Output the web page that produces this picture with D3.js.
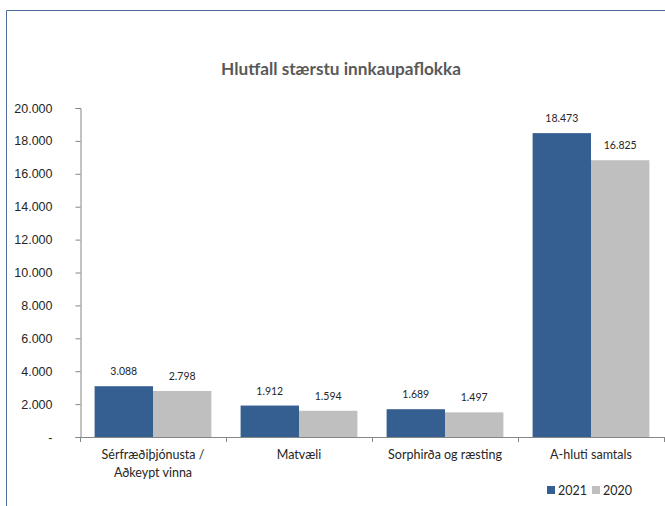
<!DOCTYPE html>
<html>
<head>
<meta charset="utf-8">
<script src="https://cdn.jsdelivr.net/npm/d3@7"></script>
<style>
  html, body { margin: 0; padding: 0; background: #fff; }
  svg { display: block; font-family: Lato, "Open Sans", sans-serif; }
</style>
</head>
<body>
<svg id="chart" width="665" height="506"></svg>
<script>
// Largest purchase categories, 2021 vs 2020
const categories = [["Sérfræðiþjónusta /", "Aðkeypt vinna"], ["Matvæli"], ["Sorphirða og ræsting"], ["A-hluti samtals"]];
const seriesNames = ["2021", "2020"];
const values2021 = [3088, 1912, 1689, 18473];
const values2020 = [2798, 1594, 1497, 16825];
const yTicks = [0, 2000, 4000, 6000, 8000, 10000, 12000, 14000, 16000, 18000, 20000];
const colors = ["#365F91", "#BFBFBF"];

const svg = d3.select("#chart");
const fmt = v => v === 0 ? "-" : d3.format(",")(v).replace(/,/g, ".");

// chart frame (top and left edges)
svg.append("path")
  .attr("d", "M6.5,506 V10.5 H665")
  .attr("fill", "none").attr("stroke", "#4F6E9B").attr("stroke-width", 1);

svg.append("text")
  .attr("x", 341).attr("y", 75)
  .attr("text-anchor", "middle")
  .attr("font-size", 17.2).attr("font-weight", "bold").attr("fill", "#595959")
  .text("Hlutfall stærstu innkaupaflokka");

const plotLeft = 80, plotRight = 664, plotTop = 108, plotBottom = 437;

const x = d3.scaleBand().domain(d3.range(categories.length))
  .range([plotLeft, plotRight]).paddingInner(0.2).paddingOuter(0.1);
const x1 = d3.scaleBand().domain(seriesNames).range([0, x.bandwidth()]);
const y = d3.scaleLinear().domain([0, 20000]).range([plotBottom, plotTop]);

// y axis
const yAxis = svg.append("g").attr("transform", `translate(${plotLeft + 0.5},0)`)
  .call(d3.axisLeft(y).tickValues(yTicks).tickFormat(fmt).tickSize(5).tickSizeOuter(5));
yAxis.select(".domain").attr("stroke", "#868686");
yAxis.selectAll(".tick line").attr("stroke", "#868686");
yAxis.selectAll(".tick text").attr("x", -28).attr("font-size", 12.5).attr("fill", "#262626");

// bars
const data = categories.map((c, i) => ({ i, vals: [values2021[i], values2020[i]] }));
const groups = svg.append("g").selectAll("g").data(data).join("g")
  .attr("transform", d => `translate(${x(d.i)},0)`);
groups.selectAll("rect").data(d => d.vals.map((v, k) => ({ v, k })))
  .join("rect")
  .attr("x", d => x1(seriesNames[d.k]))
  .attr("width", x1.bandwidth())
  .attr("y", d => y(d.v))
  .attr("height", d => y(0) - y(d.v))
  .attr("fill", d => colors[d.k]);
groups.selectAll("text.val").data(d => d.vals.map((v, k) => ({ v, k })))
  .join("text").attr("class", "val")
  .attr("x", d => x1(seriesNames[d.k]) + x1.bandwidth() / 2)
  .attr("y", d => y(d.v) - 11)
  .attr("text-anchor", "middle")
  .attr("font-size", 10.5).attr("fill", "#262626")
  .text(d => fmt(d.v));

// x axis with category boundary ticks
const xAxisG = svg.append("g");
xAxisG.append("line")
  .attr("x1", plotLeft).attr("x2", plotRight + 1).attr("y1", plotBottom + 0.5).attr("y2", plotBottom + 0.5)
  .attr("stroke", "#868686");
const step = x.step();
const bounds = d3.range(categories.length + 1).map(k => plotLeft + k * step);
xAxisG.selectAll("line.tk").data(bounds).join("line").attr("class", "tk")
  .attr("x1", d => Math.round(d) + 0.5).attr("x2", d => Math.round(d) + 0.5)
  .attr("y1", plotBottom).attr("y2", plotBottom + 5)
  .attr("stroke", "#868686");

// category labels
svg.append("g").selectAll("text").data(categories).join("text")
  .attr("text-anchor", "middle")
  .attr("font-size", 12.5).attr("fill", "#262626")
  .each(function (lines, i) {
    const t = d3.select(this);
    lines.forEach((ln, j) => {
      t.append("tspan")
        .attr("x", x(i) + x.bandwidth() / 2)
        .attr("y", 459 + j * 18)
        .text(ln);
    });
  });

// legend
const legend = svg.append("g").attr("transform", "translate(547,486)");
seriesNames.forEach((s, k) => {
  const g = legend.append("g").attr("transform", `translate(${k * 45},0)`);
  g.append("rect").attr("width", 8).attr("height", 8).attr("fill", colors[k]);
  g.append("text").attr("x", 11).attr("y", 8.5)
    .attr("font-size", 12.5).attr("fill", "#262626").text(s);
});
</script>
</body>
</html>
